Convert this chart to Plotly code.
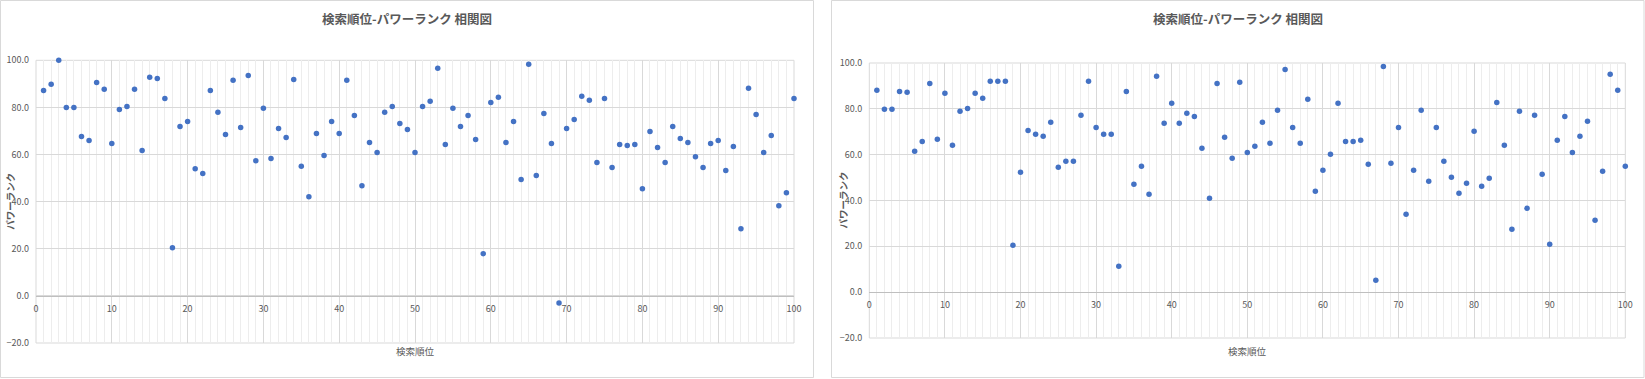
import plotly.graph_objects as go

# ---- data ----
search_rank = list(range(1, 101))
power_left = [87.2, 89.8, 100.0, 80.0, 80.0, 67.7, 66.0, 90.6, 87.7, 64.7,
              79.1, 80.4, 87.7, 61.7, 92.8, 92.3, 83.8, 20.4, 71.9, 74.0,
              54.0, 51.9, 87.2, 77.9, 68.5, 91.5, 71.5, 93.6, 57.4, 79.6,
              58.3, 71.1, 67.2, 91.9, 55.0, 42.1, 68.9, 59.6, 74.0, 68.9,
              91.5, 76.6, 46.8, 65.1, 60.9, 77.9, 80.4, 73.2, 70.6, 60.9,
              80.4, 82.6, 96.6, 64.3, 79.6, 71.9, 76.6, 66.4, 17.9, 82.1,
              84.3, 65.1, 74.0, 49.4, 98.3, 51.1, 77.4, 64.7, -3.0, 71.1,
              74.9, 84.7, 83.0, 56.6, 83.8, 54.5, 64.3, 63.8, 64.3, 45.5,
              69.8, 63.0, 56.6, 71.9, 66.8, 65.1, 59.1, 54.5, 64.7, 66.0,
              53.2, 63.4, 28.5, 88.1, 77.0, 60.9, 68.1, 38.3, 43.8, 83.8]
power_right = [88.1, 79.8, 79.8, 87.6, 87.2, 61.5, 65.8, 91.1, 66.7, 86.8,
               64.1, 78.9, 80.2, 86.8, 84.6, 92.0, 92.0, 92.0, 20.5, 52.3,
               70.6, 68.9, 68.0, 74.1, 54.5, 57.1, 57.1, 77.2, 92.0, 71.9,
               68.9, 68.9, 11.3, 87.6, 47.1, 54.9, 42.7, 94.2, 73.7, 82.4,
               73.7, 78.1, 76.7, 62.8, 41.0, 91.1, 67.6, 58.4, 91.6, 61.0,
               63.7, 74.1, 65.0, 79.4, 97.2, 71.9, 65.0, 84.2, 44.0, 53.2,
               60.2, 82.4, 65.8, 65.8, 66.3, 55.8, 5.2, 98.5, 56.3, 71.9,
               34.0, 53.2, 79.4, 48.4, 71.9, 57.1, 50.1, 43.2, 47.5, 70.2,
               46.2, 49.7, 82.8, 64.1, 27.5, 78.9, 36.6, 77.2, 51.5, 20.9,
               66.3, 76.7, 61.0, 68.0, 74.6, 31.4, 52.8, 95.1, 88.1, 54.9]
chart_title = "検索順位-パワーランク 相関図"
x_title = "検索順位"
y_title = "パワーランク"

W, H = 1645, 379
FONT = "Noto Sans CJK JP"
GREY = "#595959"
BLUE = "#4472C4"

def px(v):
    return v / W

def py(v):
    return 1 - v / H

fig = go.Figure()
for i, vals in enumerate([power_left, power_right]):
    sfx = "" if i == 0 else "2"
    fig.add_trace(go.Scatter(
        x=search_rank, y=vals, mode="markers",
        marker=dict(color=BLUE, size=5.5),
        xaxis="x" + sfx, yaxis="y" + sfx, cliponaxis=False,
        showlegend=False, hoverinfo="x+y"))

# pixel geometry of the two plot areas
panels = [
    dict(x0=36, x1=794, ytop=60.3, ybot=343, box=(0.5, 813.5), tcx=407, ycx=10),
    dict(x0=869.3, x1=1625.3, ytop=63, ybot=338, box=(831.5, 1644), tcx=1237.5, ycx=842),
]

layout = dict(
    width=W, height=H, margin=dict(l=0, r=0, t=0, b=0, pad=0, autoexpand=False),
    paper_bgcolor="white", plot_bgcolor="white",
    font=dict(family=FONT, color=GREY, size=9),
    shapes=[], annotations=[],
)

for i, p in enumerate(panels):
    sfx = "" if i == 0 else "2"
    ydom = [py(p["ybot"]), py(p["ytop"])]
    zero_pix = p["ybot"] - (p["ybot"] - p["ytop"]) * 20 / 120
    layout["xaxis" + sfx] = dict(
        domain=[px(p["x0"]), px(p["x1"])], range=[0, 100],
        anchor="free", position=py(zero_pix), automargin=False,
        dtick=10, tick0=0, showgrid=True, gridcolor="#d9d9d9", gridwidth=1,
        minor=dict(dtick=1, tick0=0, showgrid=True, gridcolor="#ededed", gridwidth=1),
        zeroline=False, showline=True, linecolor="#bfbfbf", linewidth=1,
        ticks="", ticklabelstandoff=4,
        tickfont=dict(family=FONT, size=9, color=GREY), fixedrange=True,
    )
    layout["yaxis" + sfx] = dict(
        domain=ydom, range=[-20, 100], anchor="x" + sfx, automargin=False,
        dtick=20, tick0=0, tickformat=".1f",
        showgrid=True, gridcolor="#d9d9d9", gridwidth=1, zeroline=False,
        showline=False, ticks="", ticklabelstandoff=6,
        tickfont=dict(family=FONT, size=9, color=GREY), fixedrange=True,
    )
    # plot-area edge lines
    layout["shapes"].append(dict(type="rect", xref="x%s domain" % sfx, yref="y%s domain" % sfx,
                                 x0=0, x1=1, y0=0, y1=1, line=dict(color="#d9d9d9", width=1),
                                 layer="below"))
    # chart box border
    layout["shapes"].append(dict(type="rect", xref="paper", yref="paper",
                                 x0=px(p["box"][0]), x1=px(p["box"][1]), y0=py(377.5), y1=py(0.5),
                                 line=dict(color="#d9d9d9", width=1)))
    # chart title
    layout["annotations"].append(dict(text="<b>%s</b>" % chart_title, xref="paper", yref="paper",
                                      x=px(p["tcx"]), y=py(18.5), showarrow=False,
                                      xanchor="center", yanchor="middle",
                                      font=dict(family=FONT, size=12.5, color=GREY)))
    # x axis title
    layout["annotations"].append(dict(text=x_title, xref="paper", yref="paper",
                                      x=px((p["x0"] + p["x1"]) / 2), y=py(351),
                                      showarrow=False, xanchor="center", yanchor="middle",
                                      font=dict(family=FONT, size=9.5, color=GREY)))
    # y axis title
    layout["annotations"].append(dict(text="<b>%s</b>" % y_title, xref="paper", yref="paper",
                                      x=px(p["ycx"]), y=py((p["ytop"] + p["ybot"]) / 2),
                                      showarrow=False, textangle=-90,
                                      xanchor="center", yanchor="middle",
                                      font=dict(family=FONT, size=9.5, color=GREY)))

fig.update_layout(**layout)
fig.write_html(
    "out.html",
    config={"displayModeBar": False},
    post_script=(
        "document.body.style.margin='0';document.body.style.overflow='hidden';"
        "var g=document.getElementById('{plot_id}');"
        "g.style.position='fixed';g.style.left='0px';g.style.top='0px';"
    ),
)
